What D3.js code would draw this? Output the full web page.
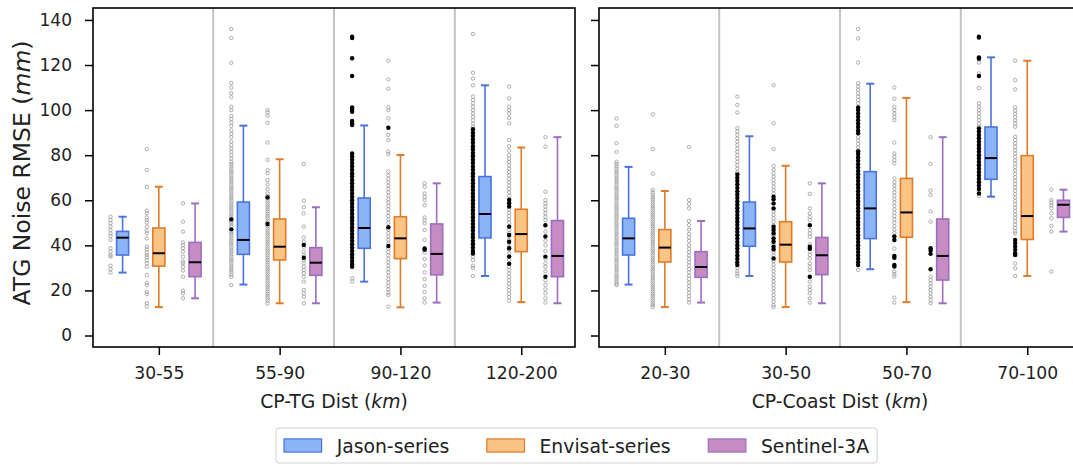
<!DOCTYPE html>
<html>
<head>
<meta charset="utf-8">
<script src="https://cdn.jsdelivr.net/npm/d3@7"></script>
<style>
  body { margin: 0; background: #fff; }
  text { font-family: "DejaVu Sans", sans-serif; }
</style>
</head>
<body>
<div id="vis"></div>
<script>
// categories
var seriesNames = ["Jason-series", "Envisat-series", "Sentinel-3A"];
var tgCats = ["30-55", "55-90", "90-120", "120-200"];
var coastCats = ["20-30", "30-50", "50-70", "70-100"];
var yTicks = [0, 20, 40, 60, 80, 100, 120, 140];

// box stats per category: [lower whisker, q1, median, q3, upper whisker]
var tgJasonBox   = [[27.9, 35.7, 43.4, 46.2, 52.7], [22.6, 36.0, 42.4, 59.2, 93.1], [23.9, 38.7, 47.7, 61.0, 93.2], [26.4, 43.3, 53.9, 70.5, 111.0]];
var tgEnvisatBox = [[12.6, 30.8, 36.5, 47.7, 66.0], [14.3, 33.5, 39.4, 51.7, 78.2], [12.5, 34.1, 43.1, 52.7, 80.1], [14.8, 37.2, 45.0, 56.0, 83.4]];
var tgS3Box      = [[16.5, 26.1, 32.5, 41.3, 58.6], [14.3, 26.7, 32.3, 39.0, 56.9], [14.6, 26.9, 36.2, 49.5, 67.5], [14.3, 26.1, 35.3, 51.0, 88.0]];
var coastJasonBox   = [[22.6, 35.7, 43.1, 52.0, 74.8], [26.4, 39.6, 47.5, 59.2, 88.4], [29.4, 43.0, 56.4, 72.7, 111.7], [61.6, 69.3, 78.7, 92.5, 123.4]];
var coastEnvisatBox = [[12.6, 32.6, 39.0, 47.0, 64.1], [12.6, 32.6, 40.3, 50.5, 75.3], [14.8, 43.6, 54.6, 69.7, 105.4], [26.4, 42.6, 53.0, 79.8, 121.9]];
var coastS3Box      = [[14.6, 25.8, 30.4, 37.2, 50.8], [14.3, 27.0, 35.6, 43.5, 67.5], [14.3, 24.6, 35.3, 51.7, 88.0], [46.1, 52.4, 58.0, 60.0, 64.7]];

// individual station values (grey circles) per category
var tgJasonPts = [
  [52.7, 51.2, 49.8, 48.3, 46.8, 45.3, 44.2, 42.4, 38.7, 37.2, 35.7, 35.0, 31.0, 29.4, 27.9],
  [136, 132, 121, 112, 110, 107.5, 105.7, 101.5, 100, 97.5, 96, 94.5, 93, 91, 89.5, 88, 86, 84.5, 83, 81.5, 80, 78.5, 77, 76, 75, 74, 73, 72, 71, 70, 69, 68, 67, 66, 65, 64, 63, 62, 61, 60, 59, 58, 57, 56, 55, 54, 53, 52, 50.5, 49.5, 48.5, 46, 45, 44, 43, 42, 41, 40, 39, 38, 37, 36, 35, 34, 33, 32, 31, 30, 29, 28, 27, 26, 22.4],
  [78.7, 75.8, 71.2, 68.3, 65.2, 62.1, 59.4, 56.5, 53.2, 50.3, 47.4, 44.6, 41.8, 38.9, 35.5, 32.2, 25.4, 23.9],
  [133.8, 116.6, 114, 111, 106, 104.5, 103, 101.5, 100, 98.5, 97, 95.5, 94, 92.5, 89, 86, 83, 80, 77, 74, 71, 68, 65, 62, 59, 56, 53, 50, 47, 44, 41, 38, 35, 33.5, 31, 30, 26.4]
];
var tgEnvisatPts = [
  [82.7, 73.4, 65.9, 55.4, 54.2, 52.4, 51.2, 50.1, 48.3, 46.5, 45.3, 43.1, 39.4, 38.2, 36.8, 35.7, 34.7, 33.5, 32.0, 30.5, 26.8, 23.4, 22.3, 19.3, 18.4, 14.3, 12.8],
  [100, 99, 97.5, 94.4, 85.6, 77.9, 73.4, 72, 69, 67, 65, 63, 62, 61, 60, 59, 58, 57, 56, 55, 54, 53, 52, 51, 50, 48.5, 47.5, 46.5, 45.5, 44.5, 43.5, 42.5, 41.5, 40.5, 39.5, 38.5, 37.5, 36.5, 35.5, 34.5, 33.5, 32.5, 31.5, 30.5, 29.5, 28.5, 27.5, 26.5, 25.5, 24.5, 23.5, 22.5, 21.5, 20.5, 19.5, 18.5, 17.5, 16.5, 15.5, 14.2],
  [121.9, 113.6, 109.5, 101.2, 100, 96.3, 89, 86.7, 81.6, 80.5, 72.7, 71, 69.5, 68, 66.5, 65, 63.5, 62, 60.5, 59, 57.5, 56, 54.5, 53, 51.5, 50, 47, 45.5, 44, 42.5, 41, 38.5, 37, 35.5, 34, 32.5, 31, 29.5, 28, 26.5, 25, 23.5, 22, 20.5, 19, 18, 12.8],
  [110.4, 105.2, 101.5, 100, 98.5, 96.5, 94.1, 86.7, 84, 82, 80, 78.5, 77, 75.5, 74, 72.5, 71, 69.5, 68, 66.5, 65, 63.5, 62, 60.5, 59, 56, 54.5, 53, 51.5, 50, 48.5, 47, 45.5, 44, 42.5, 41, 39.5, 38, 36.5, 35, 33.5, 32, 30.5, 29, 27.5, 26, 24.5, 23, 21.5, 20, 18.5, 17, 15.5]
];
var tgS3Pts = [
  [58.6, 50.5, 46.1, 41.3, 40.2, 38.7, 37.2, 35.0, 32.8, 32.0, 30.5, 28.8, 26.1, 19.9, 18.7, 16.5],
  [76.1, 59.8, 56.9, 54.2, 48.3, 43.5, 41.6, 39.4, 37.2, 35.7, 33.5, 32.0, 30.5, 29.1, 27.6, 26.1, 23.9, 20.2, 18.7, 17.2, 14.3],
  [67.5, 66, 63, 61.5, 60, 57.8, 52.4, 51.2, 49.8, 46.8, 42.4, 36.8, 34, 31, 28, 25, 22, 19.3, 16.5, 14.6],
  [88, 83.8, 63.8, 60.1, 58.6, 57.2, 55.7, 54.2, 52.7, 51.2, 46.1, 42, 40, 37.5, 34, 32, 30.5, 28.5, 24.5, 22.5, 20.5, 18.7, 16.5, 14.6]
];
var coastJasonPts = [
  [96.3, 93, 85.3, 81.4, 77, 76, 75, 74, 73, 72, 71, 70, 69, 68, 67, 66, 65, 64, 63, 62, 61, 60, 59, 58, 57, 56, 55, 54, 53, 52, 51, 50, 49, 48, 47, 46, 45, 44, 43, 42, 41, 40, 39, 38, 37, 36, 35, 34, 33, 32, 31, 30, 29, 28, 27, 26, 25, 24, 23, 22.4],
  [106, 102.3, 98.9, 92, 90.5, 89, 87.5, 86, 84.5, 83, 81.5, 80, 78.5, 77, 75.5, 74, 72.5, 69, 63, 57, 51, 45, 39, 30, 28.5, 27.5, 26.4],
  [136, 131.8, 121.1, 111.9, 110.5, 109, 107.5, 106, 104.5, 103, 88, 86.5, 85, 83.5, 82, 80.5, 70, 60, 50, 40, 29.1],
  [121.1, 116.3, 109.8, 103, 101.5, 100, 98.5, 97, 95.5, 94, 92.6, 88, 84, 80, 76, 72, 68, 64, 61.8]
];
var coastEnvisatPts = [
  [98.1, 82.7, 71.8, 64.6, 63.5, 62.5, 61.5, 60.5, 59.5, 58.5, 57.5, 56.5, 55.5, 54.5, 53.5, 52.5, 51.5, 50.5, 49.5, 48.5, 47.5, 46.5, 45.5, 44.5, 43.5, 42.5, 41.5, 40.5, 39.5, 38.5, 37.5, 36.5, 35.5, 34.5, 33.5, 32.5, 31.5, 30.5, 29.5, 28.5, 27.5, 26.5, 25.5, 24.5, 23.5, 22.5, 21.5, 20.5, 19.5, 18.5, 17.5, 16.5, 15.5, 14.5, 13.5, 12.6],
  [111, 94.1, 82.7, 75.2, 73.5, 72, 70.5, 69, 67.5, 66, 64.5, 63, 55, 53.5, 52, 50.5, 49, 47.5, 46, 44.5, 42, 40.5, 37, 35.5, 33, 31.5, 30, 28.5, 27, 25.5, 24, 22.5, 21, 19.5, 18, 16.5, 15, 13.5, 12.6],
  [110, 105.1, 101.5, 100, 98.5, 97, 95.6, 85.6, 80.8, 79.3, 77.8, 76.4, 69.7, 68, 66.5, 65, 63.5, 62, 60.5, 59, 57.5, 56, 54.5, 53, 51.5, 50, 48.5, 47, 45.5, 44, 42.4, 38.6, 28.3, 27.2, 26.1, 16.8, 14.6],
  [121.9, 113.3, 109.2, 101.2, 99.8, 98.3, 96.9, 95.5, 94, 92.6, 88.2, 86.7, 85.2, 83.7, 82.2, 80.7, 79.2, 77.7, 76.2, 74.7, 73.2, 71.7, 70.2, 68.7, 67.2, 65.7, 64.2, 62.7, 61.2, 59.7, 58.2, 56.7, 55.2, 53.7, 52.2, 50.7, 49.2, 47.7, 46.2, 45.3, 32, 29.8, 26.4]
];
var coastS3Pts = [
  [83.6, 60.1, 58.3, 56.4, 50.8, 49, 47, 45, 43.5, 42, 40, 38.5, 37, 35.5, 34, 32.5, 31, 29.5, 28, 26.5, 25, 23.5, 22, 20.5, 19, 17.5, 16, 14.6],
  [67.5, 62.8, 56.4, 54.2, 52.7, 51.2, 46.8, 45.3, 43.8, 40.5, 37.2, 35.7, 34.2, 32, 30.5, 29, 23.9, 21.7, 20.2, 18.7, 16.5, 14.6],
  [88, 76.2, 64.3, 62.4, 55, 50.5, 26.1, 24.6, 23.1, 21.7, 20.2, 18.7, 17.2, 15.8, 14.3],
  [64.7, 60.1, 58.9, 57.9, 56.4, 54.2, 52, 48.6, 46.1, 28.3]
];

// highlighted station values (black dots) per category
var tgJasonDots = [
  [],
  [51.5, 47.1],
  [132.6, 132, 123, 115.1, 101.2, 100.3, 99.3, 95.2, 94.1, 93.4, 80.8, 79.5, 78, 76.5, 75, 73.5, 72, 70.5, 69, 67.5, 66, 64.5, 63, 61.5, 60, 58.5, 57, 55.5, 54, 52.5, 51, 49.5, 48, 46.5, 45, 43.5, 42, 40.5, 39, 37.5, 36, 34.5, 33, 31.5, 30.5],
  [91.5, 90, 88.5, 87, 85.5, 84, 82.5, 81, 79.5, 78, 76.5, 75, 73.5, 72, 70.5, 69, 67.5, 66, 64.5, 63, 61.5, 60, 58.5, 57, 55.5, 54, 52.5, 51, 49.5, 48, 46.5, 45, 43.5, 42, 40.5, 39, 37.5, 36.4]
];
var tgEnvisatDots = [[], [61.3, 49.5], [92.2, 48.0, 39.7], [60.1, 58.7, 57.2, 48.3, 44.6, 41.6, 38.7, 35, 31.8]];
var tgS3Dots = [[], [40.2, 34.5], [38.6, 38.1], [48.9, 43.9, 35, 26.1]];
var coastJasonDots = [
  [],
  [71.5, 70, 68.5, 67, 65.5, 64, 62.5, 61, 59.5, 58, 56.5, 55, 53.5, 52, 50.5, 49, 47.5, 46, 44.5, 43, 41.5, 40, 38.5, 37, 35.5, 34, 32.5, 31.3],
  [101.2, 100, 98.5, 97, 95.5, 94, 92.5, 91, 89.7, 81.7, 80.5, 79, 77.5, 76, 74.5, 73, 71.5, 70, 68.5, 67, 65.5, 64, 62.5, 61, 59.5, 58, 56.5, 55, 53.5, 52, 50.5, 49, 47.5, 46, 44.5, 43, 41.5, 40, 38.5, 37, 35.5, 34, 32.5, 31.3],
  [132.6, 132.2, 123.4, 122.8, 115.1, 91.9, 90.5, 89, 87.5, 86, 84.5, 83, 81.5, 80, 78.5, 77, 75.5, 74, 72.5, 71, 69.5, 68, 66.5, 65, 63]
];
var coastEnvisatDots = [[], [61.6, 60.4, 58.6, 56.4, 48.3, 46.8, 45.3, 43.1, 41.6, 39.4, 38.2, 34.2], [43.9, 42.4, 35.3, 34.5, 31.3, 30.6], [42.4, 41, 39.5, 38, 36.5, 35.7]];
var coastS3Dots = [[], [48.9, 39.4, 38.5, 26.1], [38.7, 37.7, 36.2, 29.4], []];

var fills = ["#8ab4f5", "#f9c484", "#c68cc3"];
var edges = ["#4a74dd", "#e07b2a", "#9b6fc0"];

var width = 1073, height = 465;
var margin = { top: 8, bottom: 347 },
    panelWidth = 482;

var panels = [
  { x0: 93, cats: tgCats, label: "CP-TG Dist (", yLabels: true,
    boxes: [tgJasonBox, tgEnvisatBox, tgS3Box],
    pts: [tgJasonPts, tgEnvisatPts, tgS3Pts],
    dots: [tgJasonDots, tgEnvisatDots, tgS3Dots] },
  { x0: 599, cats: coastCats, label: "CP-Coast Dist (", yLabels: false,
    boxes: [coastJasonBox, coastEnvisatBox, coastS3Box],
    pts: [coastJasonPts, coastEnvisatPts, coastS3Pts],
    dots: [coastJasonDots, coastEnvisatDots, coastS3Dots] }
];

var svg = d3.select("#vis").append("svg")
    .attr("width", width)
    .attr("height", height);

var y = d3.scaleLinear()
    .domain([-5.1, 145.3])
    .range([margin.bottom, margin.top]);

var offsets = [-0.3, 0, 0.3],  // series position inside a group
    boxW = 0.1,
    capW = 0.066,
    stripOff = -0.1;

panels.forEach(function(p) {
    var x = d3.scaleLinear()
        .domain([-0.545, 3.445])
        .range([p.x0, p.x0 + panelWidth]);

    var g = svg.append("g");

    // grey separators between groups
    [0.45, 1.45, 2.45].forEach(function(s) {
        g.append("line")
            .attr("x1", x(s)).attr("x2", x(s))
            .attr("y1", margin.top).attr("y2", margin.bottom)
            .attr("stroke", "#c4c4c4")
            .attr("stroke-width", 2);
    });

    p.boxes.forEach(function(series, si) {
        series.forEach(function(b, ci) {
            var cx = ci + offsets[si];

            // strip of station values
            g.selectAll(null)
                .data(p.pts[si][ci])
                .enter().append("circle")
                .attr("cx", x(cx + stripOff))
                .attr("cy", function(d) { return y(d); })
                .attr("r", 1.7)
                .attr("fill", "none")
                .attr("stroke", "#999")
                .attr("stroke-width", 0.8);
            g.selectAll(null)
                .data(p.dots[si][ci])
                .enter().append("circle")
                .attr("cx", x(cx + stripOff))
                .attr("cy", function(d) { return y(d); })
                .attr("r", 2.2)
                .attr("fill", "#000");

            // whiskers
            g.append("line")
                .attr("x1", x(cx)).attr("x2", x(cx))
                .attr("y1", y(b[0])).attr("y2", y(b[1]))
                .attr("stroke", edges[si]).attr("stroke-width", 1.6);
            g.append("line")
                .attr("x1", x(cx)).attr("x2", x(cx))
                .attr("y1", y(b[3])).attr("y2", y(b[4]))
                .attr("stroke", edges[si]).attr("stroke-width", 1.6);
            [b[0], b[4]].forEach(function(v) {
                g.append("line")
                    .attr("x1", x(cx - capW / 2)).attr("x2", x(cx + capW / 2))
                    .attr("y1", y(v)).attr("y2", y(v))
                    .attr("stroke", edges[si]).attr("stroke-width", 2);
            });

            // box
            g.append("rect")
                .attr("x", x(cx - boxW / 2))
                .attr("y", y(b[3]))
                .attr("width", x(cx + boxW / 2) - x(cx - boxW / 2))
                .attr("height", y(b[1]) - y(b[3]))
                .attr("fill", fills[si])
                .attr("stroke", edges[si])
                .attr("stroke-width", 1.6);

            // median
            g.append("line")
                .attr("x1", x(cx - boxW / 2)).attr("x2", x(cx + boxW / 2))
                .attr("y1", y(b[2])).attr("y2", y(b[2]))
                .attr("stroke", "#000").attr("stroke-width", 2);
        });
    });

    // frame
    g.append("rect")
        .attr("x", p.x0).attr("y", margin.top)
        .attr("width", panelWidth).attr("height", margin.bottom - margin.top)
        .attr("fill", "none")
        .attr("stroke", "#000")
        .attr("stroke-width", 1.6);

    var xAxis = d3.axisBottom(x)
        .tickValues([0, 1, 2, 3])
        .tickFormat(function(i) { return p.cats[i]; })
        .tickSize(8)
        .tickPadding(12);
    var xg = g.append("g")
        .attr("transform", "translate(0," + margin.bottom + ")")
        .call(xAxis);
    xg.select(".domain").remove();
    xg.selectAll("line").attr("stroke-width", 1.5);
    xg.selectAll("text").attr("font-size", 17.2).attr("fill", "#222")
        .attr("font-family", "DejaVu Sans");

    var yAxis = d3.axisLeft(y)
        .tickValues(yTicks)
        .tickSize(8)
        .tickPadding(13)
        .tickFormat(p.yLabels ? d3.format("d") : "");
    var yg = g.append("g")
        .attr("transform", "translate(" + p.x0 + ",0)")
        .call(yAxis);
    yg.select(".domain").remove();
    yg.selectAll("line").attr("stroke-width", 1.5);
    yg.selectAll("text").attr("font-size", 17).attr("fill", "#222")
        .attr("font-family", "DejaVu Sans");

    // x label with italic unit
    var xl = g.append("text")
        .attr("x", x(1.45))
        .attr("y", 408)
        .attr("text-anchor", "middle")
        .attr("font-size", 18.8)
        .attr("fill", "#222");
    xl.append("tspan").text(p.label);
    xl.append("tspan").attr("font-style", "italic").text("km");
    xl.append("tspan").text(")");
});

// y label
var yl = svg.append("text")
    .attr("transform", "translate(30,173) rotate(-90)")
    .attr("text-anchor", "middle")
    .attr("font-size", 23.5)
    .attr("fill", "#222");
yl.append("tspan").text("ATG Noise RMSE (");
yl.append("tspan").attr("font-style", "italic").text("mm");
yl.append("tspan").text(")");

// legend, laid out like matplotlib: handle 2em, pad 0.8em, column gap 2em
var legendFont = 18.8,
    legendLeft = 276,
    handleW = 2 * legendFont,
    handleH = 0.7 * legendFont;
var legend = svg.append("g");
var legendBox = legend.append("rect")
    .attr("x", legendLeft).attr("y", 428)
    .attr("height", 35)
    .attr("rx", 3)
    .attr("fill", "#fff")
    .attr("stroke", "#d0d0d0");
var cursor = legendLeft + 8;
seriesNames.forEach(function(name, i) {
    legend.append("rect")
        .attr("x", cursor).attr("y", 445.5 - handleH / 2)
        .attr("width", handleW).attr("height", handleH)
        .attr("fill", fills[i])
        .attr("stroke", edges[i])
        .attr("stroke-width", 1.2);
    var t = legend.append("text")
        .attr("x", cursor + handleW + 0.8 * legendFont).attr("y", 452.5)
        .attr("font-size", legendFont)
        .attr("fill", "#222")
        .text(name);
    cursor += handleW + 0.8 * legendFont + t.node().getComputedTextLength();
    if (i < seriesNames.length - 1) cursor += 2 * legendFont;
});
legendBox.attr("width", cursor + 8 - legendLeft);
</script>
</body>
</html>
